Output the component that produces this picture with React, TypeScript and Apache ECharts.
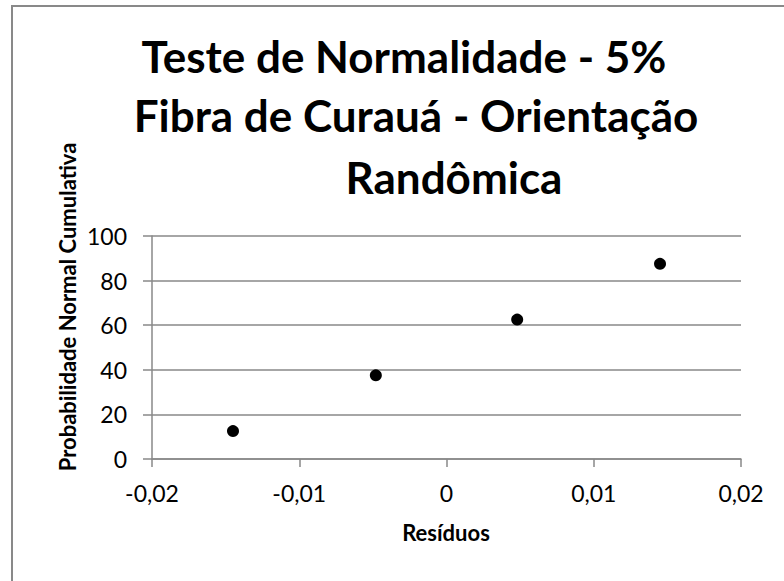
import React, { useEffect, useRef } from "react";
import * as echarts from "echarts";

const titleLines = ["Teste de Normalidade - 5%", "Fibra de Curauá - Orientação", "Randômica"];
const residuos = [-0.0145, -0.0048, 0.0048, 0.0145];
const probabilidade = [12.5, 37.5, 62.5, 87.5];
const xAxisName = "Resíduos";
const yAxisName = "Probabilidade Normal Cumulativa";

const FONT = "Lato, 'Noto Sans', sans-serif";

export default function App() {
  const ref = useRef<HTMLDivElement>(null);
  useEffect(() => {
    if (!ref.current) return;
    const chart = echarts.init(ref.current, null, { renderer: "svg" });
    const gray = "#898989";
    const titleStyle = { fontFamily: FONT, fontWeight: "bold", fontSize: 44, fill: "#000", textAlign: "center", textVerticalAlign: "bottom" };
    chart.setOption({
      animation: false,
      backgroundColor: "#ffffff",
      grid: { left: 152, right: 43, top: 236, bottom: 122 },
      xAxis: {
        type: "value",
        min: -0.02,
        max: 0.02,
        interval: 0.01,
        axisLine: { show: true, onZero: false, lineStyle: { color: gray, width: 1.5 } },
        axisTick: { show: true, length: 8, lineStyle: { color: gray, width: 1.5 } },
        splitLine: { show: false },
        axisLabel: {
          margin: 22,
          fontFamily: FONT,
          fontSize: 23,
          color: "#000",
          formatter: (v: number) => (Math.abs(v) < 1e-9 ? "0" : v.toFixed(2).replace(".", ",")),
        },
      },
      yAxis: {
        type: "value",
        min: 0,
        max: 100,
        interval: 20,
        axisLine: { show: true, onZero: false, lineStyle: { color: gray, width: 1.5 } },
        axisTick: { show: true, length: 9, lineStyle: { color: gray, width: 1.5 } },
        splitLine: { show: true, lineStyle: { color: gray, width: 1.5 } },
        axisLabel: { margin: 25, fontFamily: FONT, fontSize: 23, color: "#000" },
      },
      graphic: [
        {
          type: "rect",
          silent: true,
          shape: { x: 12, y: 6, width: 900, height: 700 },
          style: { fill: "none", stroke: gray, lineWidth: 2 },
        },
        { type: "text", x: 404, y: 78, style: { ...titleStyle, text: titleLines[0] } },
        { type: "text", x: 416, y: 137, style: { ...titleStyle, text: titleLines[1] } },
        { type: "text", x: 454, y: 199, style: { ...titleStyle, text: titleLines[2] } },
        {
          type: "text",
          x: 67,
          y: 307,
          rotation: Math.PI / 2,
          style: { text: yAxisName, fontFamily: FONT, fontWeight: "bold", fontSize: 22, fill: "#000", textAlign: "center", textVerticalAlign: "middle" },
        },
        {
          type: "text",
          x: 446,
          y: 532,
          style: { text: xAxisName, fontFamily: FONT, fontWeight: "bold", fontSize: 22, fill: "#000", textAlign: "center", textVerticalAlign: "middle" },
        },
      ],
      series: [
        {
          type: "scatter",
          symbol: "circle",
          symbolSize: 12,
          itemStyle: { color: "#000", opacity: 1 },
          data: residuos.map((x, i) => [x, probabilidade[i]]),
        },
      ],
    });
    return () => chart.dispose();
  }, []);
  return <div ref={ref} style={{ position: "fixed", left: 0, top: 0, width: 784, height: 581 }} />;
}
